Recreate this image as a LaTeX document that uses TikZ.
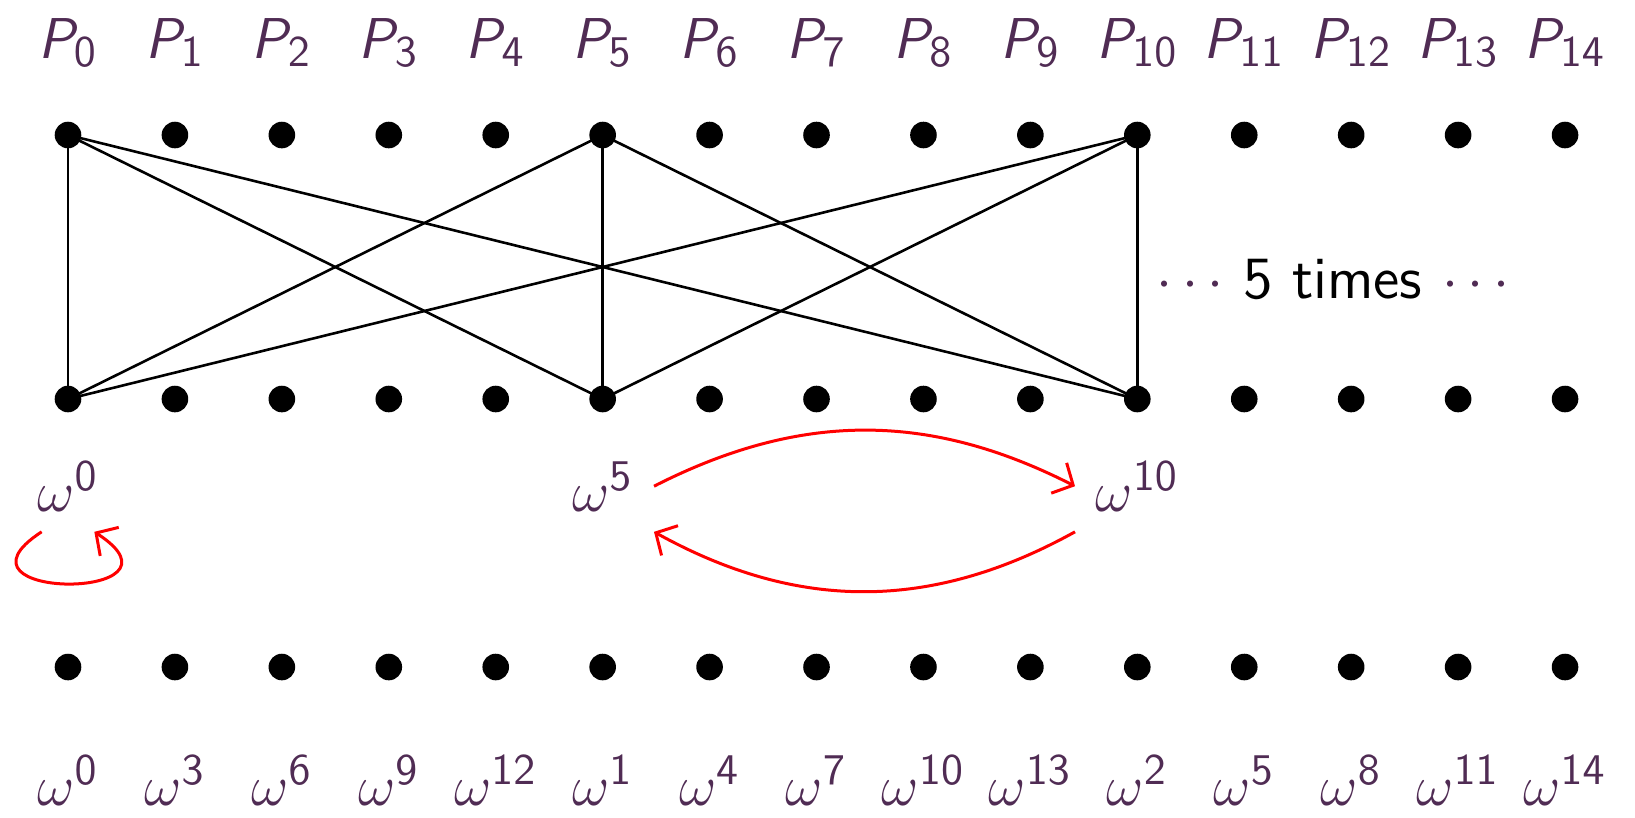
\documentclass[tikz,border=0pt]{standalone}
\usetikzlibrary{arrows.meta}
\DeclareMathAlphabet{\mathsfit}{OT1}{cmss}{m}{sl}
\definecolor{lab}{HTML}{502C54}
\newcommand{\Plab}[1]{$\mathsfit{P}_{\mathsf{#1}}$}
\newcommand{\wlab}[1]{$\omega^{\mathsf{#1}}$}
\tikzset{
  dot/.style={circle,fill=black,inner sep=0pt,minimum size=6.65pt},
  lbl/.style={text=lab,anchor=base,font=\fontsize{15}{18}\selectfont,inner sep=5pt},
  edge/.style={line width=0.65pt,black},
  redarr/.style={red,line width=0.75pt,-{Straight Barb[length=4pt,width=8.5pt]}}
}
\begin{document}
\begin{tikzpicture}[x=0.25pt,y=0.25pt]
\useasboundingbox (0,0) rectangle (1635,-817);
\foreach \i in {0,...,14}{
  \node[dot] (t\i) at ({68+106.93*\i},-135) {};
  \node[dot] (m\i) at ({68+106.93*\i},-399) {};
  \node[dot] (b\i) at ({68+106.93*\i},-667) {};
  \node[lbl] (p\i) at ({68+106.93*\i},-58) {\Plab{\i}};
}
\foreach \a in {0,5,10}{
  \foreach \b in {0,5,10}{
    \draw[edge] (t\a.center) -- (m\b.center);
  }
}
\foreach \i/\k in {0/0,1/3,2/6,3/9,4/12,5/1,6/4,7/7,8/10,9/13,10/2,11/5,12/8,13/11,14/14}{
  \node[lbl] (q\i) at ({68+106.93*\i},-805) {\wlab{\k}};
}
\node[lbl] (w0) at (68,-511) {\wlab{0}};
\node[lbl] (w5) at ({68+106.93*5},-511) {\wlab{5}};
\node[lbl] (w10) at ({68+106.93*10},-511) {\wlab{10}};
\node[anchor=base,font=\fontsize{15}{18}\selectfont\sffamily] (times) at (1333,-298)
  {{\color{lab}$\cdots$} 5 times {\color{lab}$\cdots$}};
\draw[redarr] (w5.east) to[bend left=27] (w10.west);
\draw[redarr] (w10.south west) to[bend left=29] (w5.south east);
\draw[redarr] (w0.240) to[out=213,in=327,looseness=6.2] (w0.300);
\end{tikzpicture}
\end{document}
